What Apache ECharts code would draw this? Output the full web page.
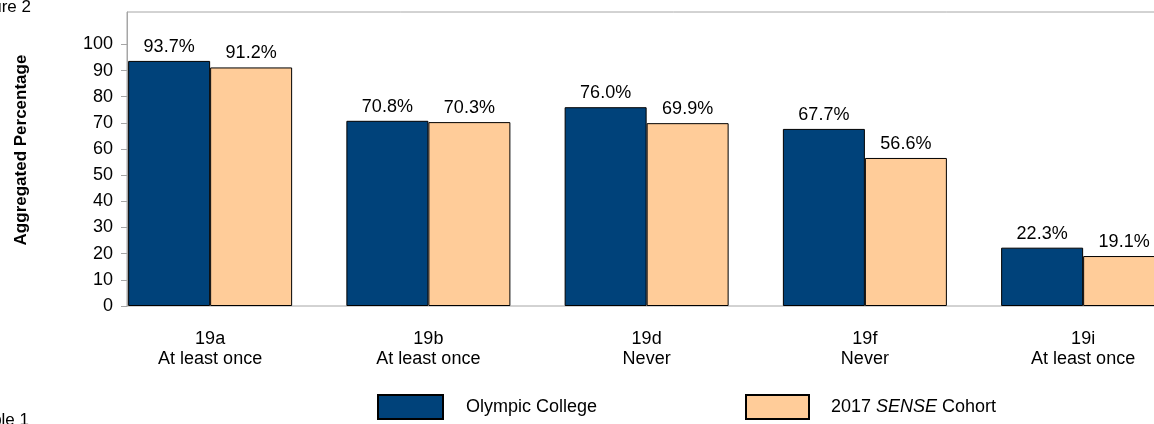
<!DOCTYPE html>
<html><head><meta charset="utf-8">
<script src="https://cdn.jsdelivr.net/npm/echarts@6/dist/echarts.min.js"></script>
<style>html,body{margin:0;padding:0;background:#fff;overflow:hidden;width:1154px;height:424px}#c{width:1220px;height:424px}</style>
</head><body><div id="c"></div>
<script>
const categories = ['19a\nAt least once', '19b\nAt least once', '19d\nNever', '19f\nNever', '19i\nAt least once'];
const olympic = [93.7, 70.8, 76.0, 67.7, 22.3];
const cohort = [91.2, 70.3, 69.9, 56.6, 19.1];
const seriesNames = ['Olympic College', '2017 SENSE Cohort'];
const yTicks = [0, 10, 20, 30, 40, 50, 60, 70, 80, 90, 100];

const FONT = '"Liberation Sans", Arial, sans-serif';
const chart = echarts.init(document.getElementById('c'), null, {renderer: 'canvas'});
const YMAX = 112.4;
chart.setOption({
  animation: false,
  textStyle: {fontFamily: FONT, color: '#000'},
  grid: [
    {left: 101, top: 12, width: 1091.25, height: 294, show: false},
    {left: 127, top: 12, right: 0, height: 294, show: true, borderColor: '#a6a6a6', borderWidth: 1}
  ],
  graphic: [
    {type: 'text', x: 31, y: -1, style: {text: 'Figure 2', font: '17px ' + FONT, fill: '#000', align: 'right', verticalAlign: 'top'}},
    {type: 'text', x: 29, y: 412, style: {text: 'Table 1', font: '17px ' + FONT, fill: '#000', align: 'right', verticalAlign: 'top'}},
    {type: 'text', x: 21, y: 150, rotation: Math.PI / 2, style: {text: 'Aggregated Percentage', font: 'bold 17px ' + FONT, fill: '#000', align: 'center', verticalAlign: 'middle'}}
  ],
  legend: [
    {data: [{name: seriesNames[0], icon: 'rect'}], left: 377, top: 394, itemWidth: 65, itemHeight: 24, itemGap: 0, padding: 0,
     textStyle: {fontSize: 18, fontFamily: FONT, color: '#000', padding: [0, 0, 0, 18]}, selectedMode: false},
    {data: [{name: seriesNames[1], icon: 'rect'}], left: 745, top: 394, itemWidth: 63, itemHeight: 24, itemGap: 0, padding: 0,
     formatter: function () { return '{n|2017 }{i|SENSE}{n| Cohort}'; },
     textStyle: {fontSize: 18, fontFamily: FONT, color: '#000', padding: [0, 0, 0, 17],
       rich: {n: {fontSize: 18, fontFamily: FONT, color: '#000'}, i: {fontSize: 18, fontFamily: FONT, fontStyle: 'italic', color: '#000'}}},
     selectedMode: false}
  ],
  xAxis: [
    {type: 'category', gridIndex: 0, data: categories,
     axisLine: {show: false}, axisTick: {show: false},
     axisLabel: {fontSize: 18, fontFamily: FONT, color: '#000', margin: 23, lineHeight: 20, interval: 0}},
    {type: 'category', gridIndex: 1, data: categories, show: false}
  ],
  yAxis: [
    {type: 'value', gridIndex: 0, min: 0, max: YMAX, show: false, splitLine: {show: false}},
    {type: 'value', gridIndex: 1, min: 0, max: YMAX, interval: 10,
     axisLine: {show: true, lineStyle: {color: '#a6a6a6'}},
     axisTick: {show: true, length: 6, lineStyle: {color: '#a6a6a6'}, customValues: yTicks},
     axisLabel: {fontSize: 18, fontFamily: FONT, color: '#000', margin: 14, customValues: yTicks},
     splitLine: {show: false}}
  ],
  series: [
    {name: seriesNames[0], type: 'bar', xAxisIndex: 0, yAxisIndex: 0, data: olympic,
     barWidth: 82, barGap: '0%',
     itemStyle: {color: '#00427a', borderColor: '#000', borderWidth: 1},
     label: {show: true, position: 'top', distance: 5, formatter: p => p.value.toFixed(1) + '%', fontSize: 18, fontFamily: FONT, color: '#000'}},
    {name: seriesNames[1], type: 'bar', xAxisIndex: 0, yAxisIndex: 0, data: cohort,
     barWidth: 82, barGap: '0%',
     itemStyle: {color: '#ffcc99', borderColor: '#000', borderWidth: 1},
     label: {show: true, position: 'top', distance: 5, formatter: p => p.value.toFixed(1) + '%', fontSize: 18, fontFamily: FONT, color: '#000'}}
  ]
});
</script></body></html>
